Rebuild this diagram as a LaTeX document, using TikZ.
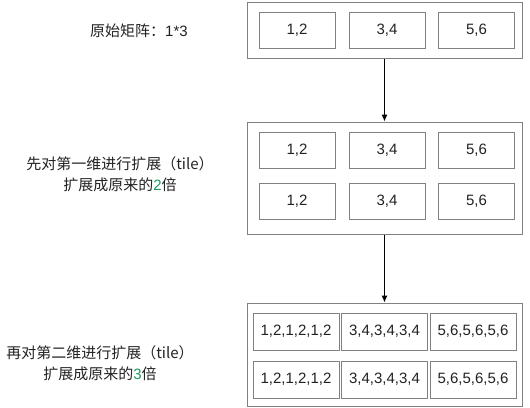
\documentclass[tikz,border=0pt]{standalone}
\usepackage{fontspec}
\setmainfont{Liberation Sans}
\newfontfamily\cjk{Noto Sans CJK SC}
\usetikzlibrary{arrows.meta}
\definecolor{boxgray}{HTML}{808080}
\definecolor{numgreen}{HTML}{1A9A5A}
\definecolor{txt}{HTML}{222222}

\begin{document}
\begin{tikzpicture}[x=1pt, y=-1pt, every node/.style={font=\fontsize{15}{21}\selectfont, text=txt}, >={Latex[length=7pt,width=6pt]},
	outer/.style={draw=boxgray, line width=1pt, minimum width=275pt, inner sep=0pt},
	cell/.style={draw=boxgray, line width=0.9pt, minimum width=76pt, minimum height=36pt, inner sep=0pt},
	widecell/.style={cell, minimum width=86pt, minimum height=37pt}]
	\useasboundingbox (0,0) rectangle (530,407);
	% frames
	\node[outer, minimum height=56pt] (m1) at (384.5,30) {};
	\node[outer, minimum height=112pt] (m2) at (384.5,178) {};
	\node[outer, minimum height=103pt] (m3) at (384.5,354.5) {};
	% 1x3
	\foreach \x/\v [count=\i] in {297/{1,2},387/{3,4},476.5/{5,6}} {\node[cell] (a\i) at (\x,30) {\v};}
	% 2x3
	\foreach \x/\v [count=\i] in {297/{1,2},387/{3,4},476.5/{5,6}} {
		\node[cell] (b\i) at (\x,150.5) {\v};
		\node[cell] (c\i) at (\x,201.5) {\v};
	}
	% 2x9
	\foreach \x/\v [count=\i] in {296/{1,2,1,2,1,2},384.5/{3,4,3,4,3,4},473/{5,6,5,6,5,6}} {
		\node[widecell] (d\i) at (\x,331.5) {\v};
		\node[widecell] (e\i) at (\x,379.5) {\v};
	}
	\draw[->, line width=1pt] (m1.south) -- (m2.north);
	\draw[->, line width=1pt] (m2.south) -- (m3.north);
	% labels
	\node (t1) at (139,31) {{\cjk 原始矩阵：}1*3};
	\node[align=center] (t2) at (120,174.5) {{\cjk 先对第一维进行扩展（tile）}\\{\cjk 扩展成原来的}{\color{numgreen}2}{\cjk 倍}};
	\node[align=center] (t3) at (100,363) {{\cjk 再对第二维进行扩展（tile）}\\{\cjk 扩展成原来的}{\color{numgreen}3}{\cjk 倍}};
\end{tikzpicture}
\end{document}
